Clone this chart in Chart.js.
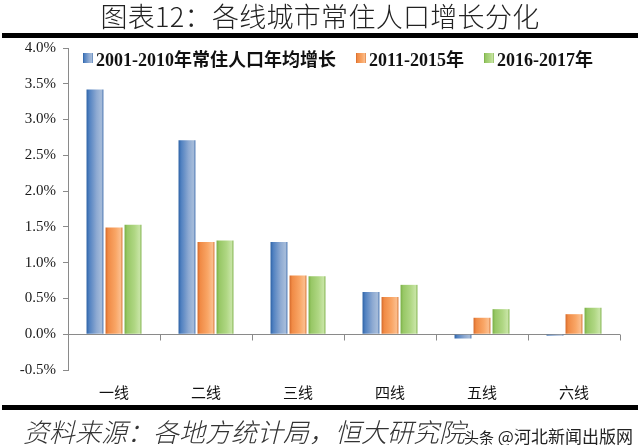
<!DOCTYPE html>
<html>
<head>
<meta charset="utf-8">
<script src="https://cdn.jsdelivr.net/npm/chart.js@4.4.0/dist/chart.umd.min.js"></script>
<style>
    body { margin: 0; width: 640px; height: 445px; background: #fff; position: relative; overflow: hidden; font-family: "Noto Sans CJK SC", sans-serif; }
    #chart { position: absolute; left: 0; top: 0; }
    #title { position: absolute; left: 0; top: 1px; width: 640px; text-align: center; font-size: 27px; line-height: 30px; color: #222; font-weight: 300; letter-spacing: 0.3px; }
    .rule { position: absolute; left: 2px; width: 636px; height: 5px; background: #000; }
    #legend { position: absolute; left: 83px; top: 45px; display: flex; align-items: center; font-family: "Liberation Serif", "Noto Sans CJK SC", serif; font-weight: bold; font-size: 18px; color: #111; }
    .item { display: flex; align-items: center; margin-right: 20px; }
    .box { width: 10px; height: 10px; margin-right: 3px; }
    #source { position: absolute; left: 23px; top: 412px; font-size: 26px; font-style: italic; font-weight: 300; color: #333; white-space: nowrap; }
    #mark { position: absolute; left: 464px; top: 423px; font-size: 17px; color: #222; white-space: nowrap; }
    #mark small { font-size: 15px; }
</style>
</head>
<body>
<canvas id="chart" width="640" height="445"></canvas>
<div id="title">图表12：各线城市常住人口增长分化</div>
<div class="rule" style="top:33px"></div>
<div id="legend"></div>
<div class="rule" style="top:405px"></div>
<div id="source">资料来源：各地方统计局，恒大研究院</div>
<div id="mark"><small>头条</small> @河北新闻出版网</div>

<script>
// data (percent)
const categories = ['一线', '二线', '三线', '四线', '五线', '六线'];
const seriesNames = ['2001-2010年常住人口年均增长', '2011-2015年', '2016-2017年'];
const growth2001 = [3.42, 2.71, 1.29, 0.59, -0.06, -0.02];
const growth2011 = [1.49, 1.29, 0.82, 0.52, 0.23, 0.28];
const growth2016 = [1.53, 1.31, 0.81, 0.69, 0.35, 0.37];
const yTicks = [-0.5, 0, 0.5, 1.0, 1.5, 2.0, 2.5, 3.0, 3.5, 4.0];

const axisColor = '#8a8a8a';
// left edge -> right edge shading for each series
const shades = [
    ['#2d62a5', '#4f80c0', '#8eaad2', '#a6bcda', '#4b77b2'],
    ['#d4692a', '#f08a45', '#f9a666', '#fbbd8c', '#d97a3b'],
    ['#78ae44', '#97c765', '#b0d784', '#c7e4a4', '#84b552']
];
const stopPos = [0, 0.15, 0.6, 0.88, 1];

function makeGradient(ctx, x0, x1, cols) {
    const g = ctx.createLinearGradient(x0, 0, x1, 0);
    cols.forEach((c, i) => g.addColorStop(stopPos[i], c));
    return g;
}

// shade each bar like a cylinder
const barShading = {
    id: 'barShading',
    beforeDatasetsDraw(chart) {
        const ctx = chart.ctx;
        chart.data.datasets.forEach((ds, di) => {
            chart.getDatasetMeta(di).data.forEach(bar => {
                const half = bar.width / 2;
                const g = makeGradient(ctx, bar.x - half, bar.x + half, shades[di]);
                bar.options = Object.assign({}, bar.options, { backgroundColor: g });
            });
        });
    }
};

// zero line plus small category ticks hanging from it
const zeroTicks = {
    id: 'zeroTicks',
    beforeDatasetsDraw(chart) {
        const { ctx, scales: { x, y } } = chart;
        const y0 = Math.round(y.getPixelForValue(0)) + 0.5;
        const step = x.width / categories.length;
        ctx.save();
        ctx.strokeStyle = axisColor;
        ctx.lineWidth = 1;
        ctx.beginPath();
        ctx.moveTo(x.left, y0);
        ctx.lineTo(x.right, y0);
        for (let i = 1; i <= categories.length; i++) {
            const px = Math.round(x.left + step * i) + 0.5;
            ctx.moveTo(px, y0);
            ctx.lineTo(px, y0 + 6);
        }
        ctx.stroke();
        ctx.restore();
    }
};

const ctx = document.getElementById('chart').getContext('2d');
new Chart(ctx, {
    type: 'bar',
    data: {
        labels: categories,
        datasets: [
            { label: seriesNames[0], data: growth2001, backgroundColor: shades[0][2] },
            { label: seriesNames[1], data: growth2011, backgroundColor: shades[1][2] },
            { label: seriesNames[2], data: growth2016, backgroundColor: shades[2][2] }
        ]
    },
    options: {
        responsive: false,
        animation: false,
        layout: { padding: { left: 8, top: 48, right: 20, bottom: 45 } },
        datasets: {
            bar: { barPercentage: 0.89, categoryPercentage: 0.62, borderWidth: 0 }
        },
        scales: {
            x: {
                grid: { display: false, drawTicks: false },
                border: { display: false },
                ticks: {
                    color: '#111',
                    padding: 13,
                    font: { family: '"Noto Sans CJK SC"', size: 15 }
                },
                afterFit: s => { s.height = 30; }
            },
            y: {
                min: -0.5,
                max: 4,
                afterBuildTicks: s => { s.ticks = yTicks.map(v => ({ value: v })); },
                grid: { drawOnChartArea: false, color: axisColor, tickColor: axisColor, tickLength: 5 },
                border: { display: true, color: axisColor },
                ticks: {
                    color: '#1a1a1a',
                    padding: 7,
                    font: { family: '"Liberation Serif", serif', size: 15 },
                    callback: v => Number(v).toFixed(1) + '%'
                },
                afterFit: s => { s.width = 60; }
            }
        },
        plugins: {
            legend: { display: false },
            tooltip: { enabled: false }
        }
    },
    plugins: [zeroTicks, barShading]
});

// legend built from the series names
const legend = document.getElementById('legend');
seriesNames.forEach((name, i) => {
    const item = document.createElement('div');
    item.className = 'item';
    const box = document.createElement('span');
    box.className = 'box';
    box.style.background = 'linear-gradient(to right, ' + shades[i].map((c, k) => c + ' ' + stopPos[k] * 100 + '%').join(', ') + ')';
    const txt = document.createElement('span');
    txt.textContent = name;
    item.appendChild(box);
    item.appendChild(txt);
    legend.appendChild(item);
});
</script>
</body>
</html>
